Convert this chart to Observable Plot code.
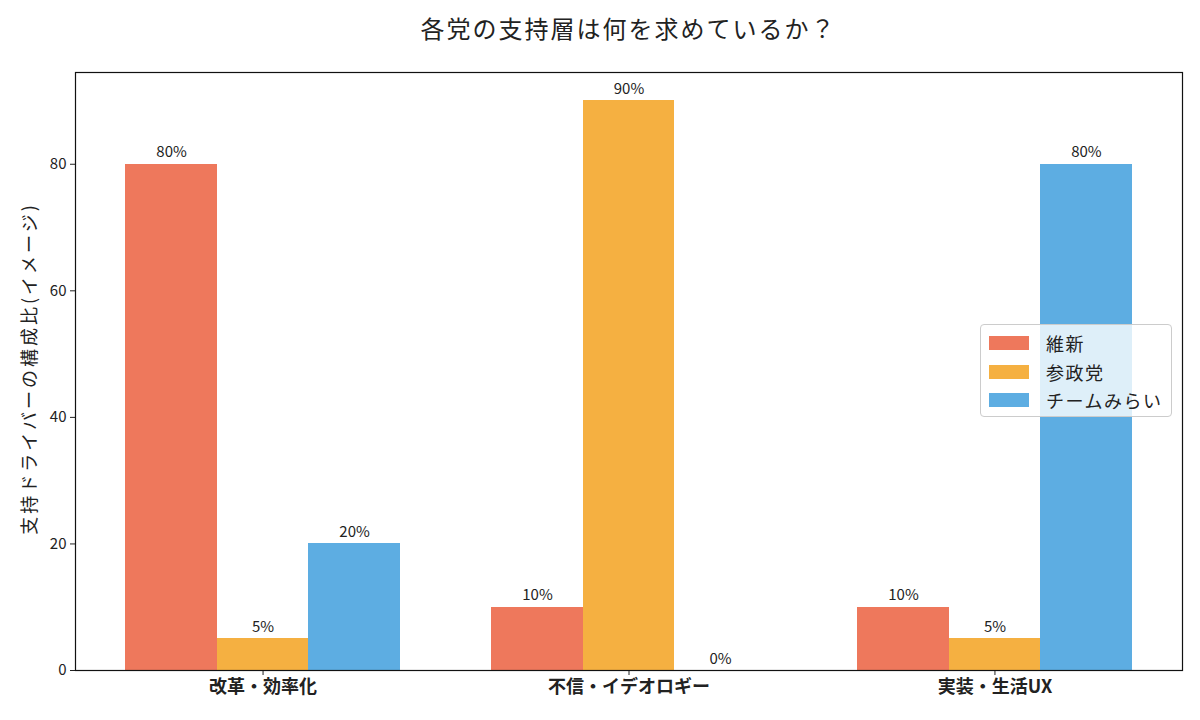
<!DOCTYPE html>
<html>
<head>
<meta charset="utf-8">
<script src="https://cdn.jsdelivr.net/npm/d3@7"></script>
<script src="https://cdn.jsdelivr.net/npm/@observablehq/plot@0.6"></script>
<style>
  html, body { margin: 0; padding: 0; background: #fff; }
  body { font-family: "Noto Sans CJK JP", "Noto Sans", sans-serif; }
  #wrap { position: relative; width: 1200px; height: 720px; overflow: hidden; }
  #title { height: 55px; box-sizing: border-box; padding: 11px 18px 0 75px; text-align: center;
           font-size: 24px; color: #222; line-height: 34px; letter-spacing: 2px; }
  #legend { position: absolute; left: 980px; top: 324px; width: 192px; height: 93px; box-sizing: border-box;
            background: rgba(255,255,255,0.8); border: 1px solid #ccc; border-radius: 4px;
            padding: 4px 0 0 8px; font-size: 18px; color: #222; letter-spacing: 1.5px; }
  .row { display: flex; align-items: center; height: 28.5px; }
  .sw { width: 40px; height: 14px; margin-right: 17px; }
</style>
</head>
<body>
<div id="wrap">
  <div id="title">各党の支持層は何を求めているか？</div>
  <div id="chart"></div>
  <div id="legend"></div>
</div>
<script>
const categories = ["改革・効率化", "不信・イデオロギー", "実装・生活UX"];
const parties = ["維新", "参政党", "チームみらい"];
const ishin = [80, 10, 10];
const sansei = [5, 90, 5];
const mirai = [20, 0, 80];
const colors = ["#EE785C", "#F5B041", "#5DADE2"];
const yTicks = [0, 20, 40, 60, 80];
const yLabel = "支持ドライバーの構成比(イメージ)";

const seriesValues = [ishin, sansei, mirai];
const barWidth = 0.25;
const rows = [];
categories.forEach((c, gi) => {
  parties.forEach((p, si) => {
    const center = gi + (si - 1) * barWidth;
    rows.push({category: c, party: p, value: seriesValues[si][gi],
               x1: center - barWidth / 2, x2: center + barWidth / 2, xc: center});
  });
});

const chart = Plot.plot({
  width: 1200,
  height: 665,
  marginTop: 17,
  marginBottom: 50,
  marginLeft: 75,
  marginRight: 18,
  style: {fontFamily: '"Noto Sans CJK JP", "Noto Sans", sans-serif', fontSize: "14px", color: "#222", background: "#fff"},
  x: {domain: [-0.5125, 2.5125], ticks: [0, 1, 2], tickFormat: i => categories[i], tickSize: 5, tickPadding: 4, label: null},
  y: {domain: [0, 94.5], ticks: yTicks, tickSize: 5, tickPadding: 4, label: null},
  color: {domain: parties, range: colors},
  marks: [
    Plot.rectY(rows, {x1: "x1", x2: "x2", y1: 0, y2: "value", fill: "party", inset: 0, shapeRendering: "crispEdges"}),
    Plot.text(rows, {x: "xc", y: "value", text: d => d.value + "%", lineAnchor: "bottom", dy: -7, fontSize: 15, fill: "#222"}),
    Plot.axisY({ticks: yTicks, tickSize: 5, tickPadding: 4, fontSize: 15, label: null}),
    Plot.axisX({ticks: [0, 1, 2], tickFormat: i => categories[i], tickSize: 5, tickPadding: 5, fontSize: 18, fontWeight: "bold", label: null}),
    Plot.frame({stroke: "#111", strokeWidth: 1.2}),
    Plot.text([yLabel], {frameAnchor: "left", dx: -45, dy: -3, rotate: -90, fontSize: 18, fill: "#222", textAnchor: "middle"})
  ]
});
d3.select(chart).selectAll("text").filter(function() { return this.textContent === yLabel; })
  .attr("letter-spacing", "3px");
document.getElementById("chart").appendChild(chart);

const legend = document.getElementById("legend");
parties.forEach((p, i) => {
  const r = document.createElement("div");
  r.className = "row";
  r.innerHTML = `<div class="sw" style="background:${colors[i]}"></div><span>${p}</span>`;
  legend.appendChild(r);
});
</script>
</body>
</html>
